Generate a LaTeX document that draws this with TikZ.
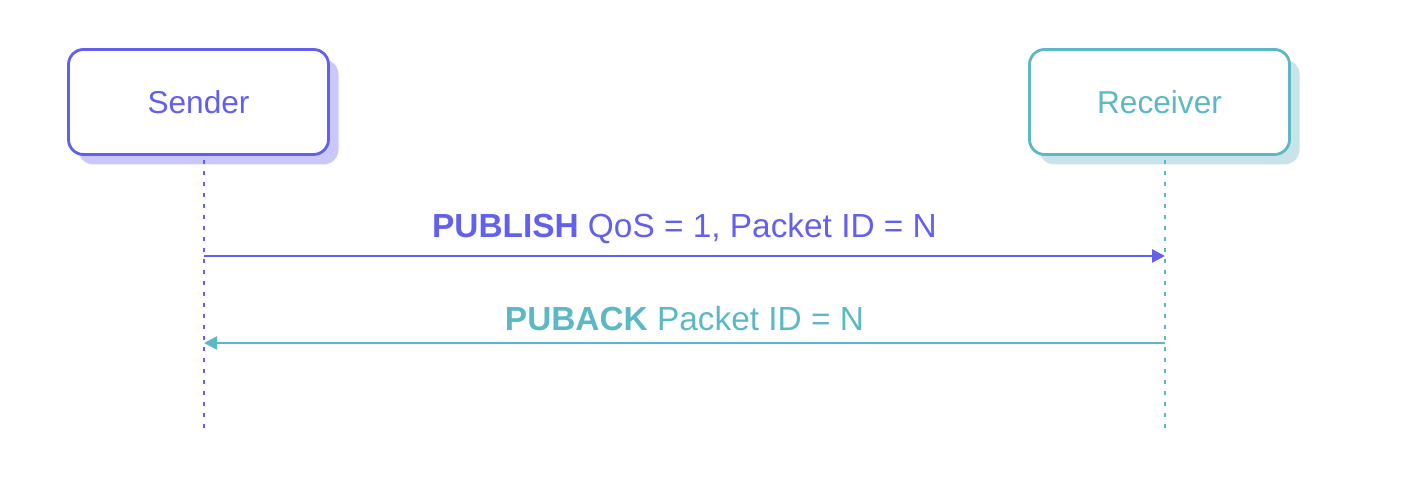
\documentclass[tikz,border=0pt]{standalone}
\usepackage{fontspec}
\setmainfont{Liberation Sans}
\usetikzlibrary{arrows.meta, shadows, positioning}
\definecolor{sendc}{RGB}{98,96,236}
\definecolor{sendshade}{RGB}{202,200,250}
\definecolor{recvc}{RGB}{92,184,196}
\definecolor{recvshade}{RGB}{200,228,234}
\begin{document}
\begin{tikzpicture}[
  party/.style={draw, rounded corners=0.3cm, line width=1.6pt, fill=white,
                minimum width=5.2cm, minimum height=2.1cm, align=center,
                font=\fontsize{18}{22}\selectfont},
  lifeline/.style={line width=1.3pt, dash pattern=on 0.08cm off 0.14cm},
  msg/.style={-{Triangle[length=0.26cm, width=0.26cm]}, line width=1.5pt},
  lbl/.style={font=\fontsize{19}{23}\selectfont, above=3pt}
]
\useasboundingbox (0,0) rectangle (28.36,10);
% Sender box
\node[party, draw=sendc, text=sendc,
      drop shadow={shadow xshift=0.2cm, shadow yshift=-0.2cm, fill=sendshade, opacity=1}]
      (sender) at (3.97,7.96) {Sender};
% Receiver box
\node[party, draw=recvc, text=recvc,
      drop shadow={shadow xshift=0.2cm, shadow yshift=-0.2cm, fill=recvshade, opacity=1}]
      (receiver) at (23.19,7.96) {Receiver};

% lifelines
\coordinate (stop) at (4.08,6.8);
\coordinate (sbot) at (4.08,1.44);
\coordinate (rtop) at (23.3,6.8);
\coordinate (rbot) at (23.3,1.44);
\draw[lifeline, sendc] (stop) -- (sbot);
\draw[lifeline, recvc] (rtop) -- (rbot);

% messages
\coordinate (spub) at (4.08,4.88);
\coordinate (rpub) at (23.3,4.88);
\coordinate (sack) at (4.08,3.14);
\coordinate (rack) at (23.3,3.14);
\draw[msg, sendc] (spub) -- node[lbl, text=sendc] (publish) {\textbf{PUBLISH} QoS = 1, Packet ID = N} (rpub);
\draw[msg, recvc] (rack) -- node[lbl, text=recvc] (puback) {\textbf{PUBACK} Packet ID = N} (sack);
\end{tikzpicture}
\end{document}
